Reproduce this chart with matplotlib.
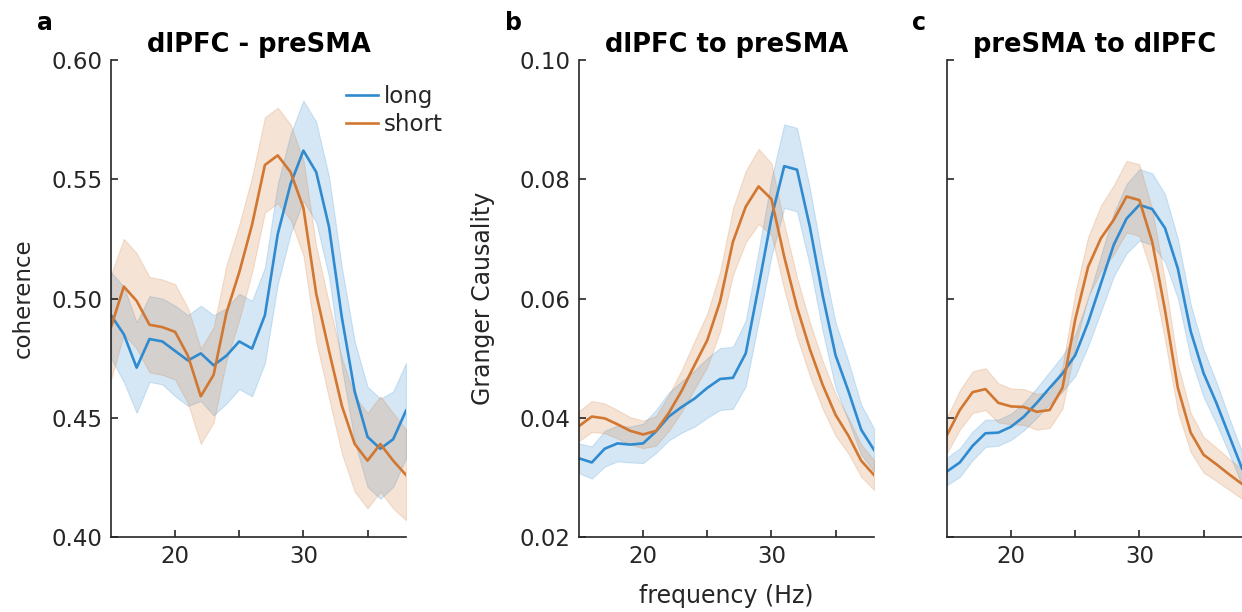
import numpy as np
import matplotlib
matplotlib.use('Agg')
import matplotlib.pyplot as plt

plt.rcParams['font.family'] = 'DejaVu Sans'

freq = np.arange(15, 39)

# panel a: coherence
a_long = [0.493, 0.485, 0.471, 0.483, 0.482, 0.478, 0.474, 0.477, 0.472, 0.476, 0.482, 0.479,
          0.493, 0.527, 0.548, 0.562, 0.553, 0.530, 0.492, 0.461, 0.442, 0.437, 0.441, 0.453]
a_long_sem = [0.018, 0.020, 0.019, 0.018, 0.018, 0.019, 0.019, 0.020, 0.021, 0.020, 0.020, 0.020,
              0.020, 0.021, 0.021, 0.021, 0.021, 0.021, 0.021, 0.021, 0.021, 0.021, 0.020, 0.020]
a_short = [0.488, 0.505, 0.499, 0.489, 0.488, 0.486, 0.476, 0.459, 0.468, 0.494, 0.511, 0.531,
           0.556, 0.560, 0.553, 0.538, 0.502, 0.478, 0.455, 0.439, 0.432, 0.439, 0.432, 0.426]
a_short_sem = [0.022, 0.020, 0.020, 0.020, 0.020, 0.020, 0.020, 0.020, 0.020, 0.020, 0.020, 0.020,
               0.020, 0.020, 0.020, 0.020, 0.020, 0.020, 0.020, 0.020, 0.020, 0.020, 0.020, 0.019]

# panel b: dlPFC to preSMA
b_long = [0.0332, 0.0325, 0.0348, 0.0357, 0.0355, 0.0357, 0.0377, 0.0402, 0.0418, 0.0432, 0.0450, 0.0465,
          0.0467, 0.0508, 0.0620, 0.0735, 0.0822, 0.0816, 0.0720, 0.0605, 0.0505, 0.0445, 0.0380, 0.0346]
b_long_sem = [0.0025, 0.0027, 0.0030, 0.0030, 0.0030, 0.0033, 0.0036, 0.0040, 0.0043, 0.0047, 0.0050, 0.0052,
              0.0052, 0.0055, 0.0060, 0.0065, 0.0070, 0.0070, 0.0065, 0.0060, 0.0055, 0.0050, 0.0042, 0.0036]
b_short = [0.0386, 0.0402, 0.0399, 0.0389, 0.0378, 0.0372, 0.0378, 0.0408, 0.0445, 0.0488, 0.0530, 0.0595,
           0.0695, 0.0754, 0.0788, 0.0767, 0.0670, 0.0585, 0.0515, 0.0455, 0.0405, 0.0370, 0.0328, 0.0304]
b_short_sem = [0.0025, 0.0026, 0.0025, 0.0024, 0.0023, 0.0023, 0.0025, 0.0030, 0.0035, 0.0040, 0.0045, 0.0050,
               0.0056, 0.0060, 0.0063, 0.0060, 0.0055, 0.0050, 0.0045, 0.0040, 0.0035, 0.0030, 0.0027, 0.0025]

# panel c: preSMA to dlPFC
c_long = [0.0310, 0.0325, 0.0353, 0.0374, 0.0375, 0.0385, 0.0402, 0.0425, 0.0450, 0.0474, 0.0505, 0.0560,
          0.0625, 0.0690, 0.0734, 0.0757, 0.0750, 0.0718, 0.0650, 0.0545, 0.0475, 0.0425, 0.0370, 0.0315]
c_long_sem = [0.0023, 0.0024, 0.0024, 0.0023, 0.0022, 0.0022, 0.0023, 0.0025, 0.0027, 0.0030, 0.0035, 0.0040,
              0.0047, 0.0053, 0.0058, 0.0060, 0.0060, 0.0057, 0.0050, 0.0045, 0.0040, 0.0035, 0.0030, 0.0028]
c_short = [0.0371, 0.0413, 0.0443, 0.0448, 0.0425, 0.0419, 0.0418, 0.0410, 0.0413, 0.0450, 0.0565, 0.0653,
           0.0701, 0.0732, 0.0771, 0.0765, 0.0695, 0.0580, 0.0450, 0.0375, 0.0338, 0.0322, 0.0305, 0.0289]
c_short_sem = [0.0030, 0.0033, 0.0035, 0.0035, 0.0033, 0.0030, 0.0030, 0.0030, 0.0030, 0.0035, 0.0045, 0.0050,
               0.0055, 0.0058, 0.0060, 0.0060, 0.0055, 0.0050, 0.0040, 0.0033, 0.0030, 0.0028, 0.0026, 0.0025]

titles = ['dlPFC - preSMA', 'dlPFC to preSMA', 'preSMA to dlPFC']
letters = ['a', 'b', 'c']

blue = '#2F8AD0'
orange = '#D17731'
dark = '#262626'

fig = plt.figure(figsize=(12.42, 6.12), dpi=100)
lefts = [111 / 1242, 579 / 1242, 947 / 1242]
width = 295 / 1242
bottom = 1 - 537 / 612
height = 477 / 612
axes = [fig.add_axes([l, bottom, width, height]) for l in lefts]

panels = [(a_long, a_long_sem, a_short, a_short_sem),
          (b_long, b_long_sem, b_short, b_short_sem),
          (c_long, c_long_sem, c_short, c_short_sem)]

for ax, (lm, ls, sm, ss), title in zip(axes, panels, titles):
    lm, ls, sm, ss = map(np.array, (lm, ls, sm, ss))
    ax.fill_between(freq, lm - ls, lm + ls, color=blue, alpha=0.2, lw=0.8)
    ax.fill_between(freq, sm - ss, sm + ss, color=orange, alpha=0.2, lw=0.8)
    ax.plot(freq, lm, color=blue, lw=1.9, label='long')
    ax.plot(freq, sm, color=orange, lw=1.9, label='short')
    ax.set_xlim(15, 38)
    ax.set_xticks([20, 25, 30, 35])
    ax.set_xticklabels(['20', '', '30', ''])
    ax.spines['top'].set_visible(False)
    ax.spines['right'].set_visible(False)
    for s in ['left', 'bottom']:
        ax.spines[s].set_color(dark)
        ax.spines[s].set_linewidth(1.2)
    ax.tick_params(direction='in', length=5, width=1.2, color=dark, labelcolor=dark,
                   labelsize=16.5, pad=6)
    ax.set_title(title, fontsize=18.5, fontweight='bold', pad=6)

axes[0].set_ylim(0.40, 0.60)
axes[0].set_yticks([0.40, 0.45, 0.50, 0.55, 0.60])
axes[0].set_yticklabels(['0.40', '0.45', '0.50', '0.55', '0.60'])
axes[0].set_ylabel('coherence', fontsize=16.5, color=dark)
axes[0].yaxis.set_label_coords(-0.26, 0.5)

gc_ticks = [0.02, 0.04, 0.06, 0.08, 0.10]
for ax in axes[1:]:
    ax.set_ylim(0.02, 0.10)
    ax.set_yticks(gc_ticks)
axes[1].set_yticklabels(['0.02', '0.04', '0.06', '0.08', '0.10'])
axes[2].set_yticklabels([])
axes[1].set_ylabel('Granger Causality', fontsize=17, color=dark)
axes[1].yaxis.set_label_coords(-0.285, 0.5)
axes[1].set_xlabel('frequency (Hz)', fontsize=17, color=dark)
axes[1].xaxis.set_label_coords(0.5, -0.098)
axes[1].xaxis.label.set_va('top')

axes[0].legend(loc='center left', bbox_to_anchor=(346 / 1242, 1 - 110.5 / 612),
               bbox_transform=fig.transFigure, frameon=False, fontsize=16.5,
               handlelength=1.4, handletextpad=0.25, labelspacing=0.2,
               borderpad=0, borderaxespad=0, labelcolor=dark)

for letter, x in zip(letters, [37, 505, 912]):
    fig.text(x / 1242, 1 - 30 / 612, letter, fontsize=17, fontweight='bold', va='baseline')

fig.savefig('out.png', dpi=100)
